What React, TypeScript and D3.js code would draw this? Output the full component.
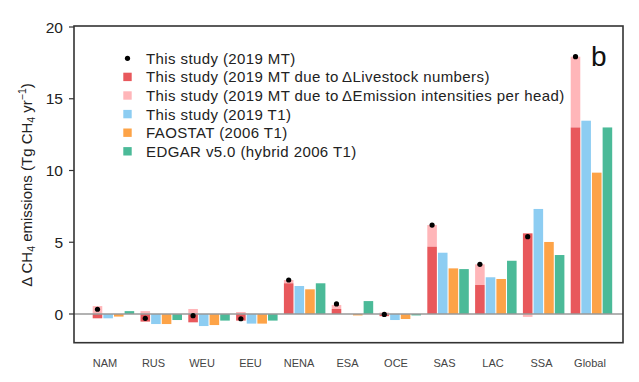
import React from "react";
import * as d3 from "d3";

const regions = ["NAM", "RUS", "WEU", "EEU", "NENA", "ESA", "OCE", "SAS", "LAC", "SSA", "Global"];
const mtTotal = [0.33, -0.3, -0.12, -0.33, 2.37, 0.7, -0.03, 6.2, 3.46, 5.39, 17.93];
const mtLivestock = [-0.3, -0.53, -0.58, -0.46, 2.14, 0.35, -0.15, 4.69, 2.02, 5.62, 13.0];
const mtIntensity = [0.55, 0.2, 0.35, 0.14, 0.23, 0.28, 0.1, 1.51, 1.44, -0.2, 4.93];
const t1Study = [-0.3, -0.7, -0.84, -0.67, 1.95, 0.0, -0.42, 4.27, 2.56, 7.32, 13.47];
const faostat = [-0.18, -0.7, -0.77, -0.67, 1.72, -0.1, -0.35, 3.18, 2.44, 5.02, 9.85];
const edgar = [0.2, -0.42, -0.46, -0.46, 2.14, 0.9, -0.1, 3.13, 3.71, 4.11, 13.0];
const yTicks = [0, 5, 10, 15, 20];
const legendLabels = [
  "This study (2019 MT)",
  "This study (2019 MT due to\u2009\u0394Livestock numbers)",
  "This study (2019 MT due to\u2009\u0394Emission intensities per head)",
  "This study (2019 T1)",
  "FAOSTAT (2006 T1)",
  "EDGAR v5.0 (hybrid 2006 T1)",
];

const RED = "#E8585C";
const PINK = "#FFB6B9";
const BLUE = "#8DCDF2";
const ORANGE = "#FDA347";
const GREEN = "#4BBA98";
const legendColors = ["#000", RED, PINK, BLUE, ORANGE, GREEN];

const FONT = "'Liberation Sans', Arial, Helvetica, sans-serif";

export default function App() {
  const W = 639, H = 382;
  const left = 74, right = 623, top = 26;
  const y = d3.scaleLinear().domain([-2, 20]).range([342.7, 27]);
  const xg = d3.scaleBand<string>().domain(regions).range([92.7, 612.2]).paddingInner(0.132).paddingOuter(0);
  const xs = d3.scaleBand<string>().domain(["mt", "t1", "fao", "edgar"]).range([0, xg.bandwidth()]).paddingInner(0.1);
  const xl = d3.scalePoint<string>().domain(regions).range([105, 590]);
  const bw = xs.bandwidth();
  const y0 = y(0);

  const rect = (x: number, a: number, b: number, fill: string, key: string) => (
    <rect key={key} x={x} y={Math.min(y(a), y(b))} width={bw} height={Math.abs(y(a) - y(b))} fill={fill} />
  );

  const bars: React.ReactNode[] = [];
  regions.forEach((r, i) => {
    const gx = xg(r)!;
    const red = mtLivestock[i];
    const pink = mtIntensity[i];
    const xr = gx + xs("mt")!;
    if (Math.sign(red) === Math.sign(pink)) {
      bars.push(rect(xr, red, red + pink, PINK, "p" + i));
    } else {
      bars.push(rect(xr, 0, pink, PINK, "p" + i));
    }
    bars.push(rect(xr, 0, red, RED, "r" + i));
    bars.push(rect(gx + xs("t1")!, 0, t1Study[i], BLUE, "b" + i));
    bars.push(rect(gx + xs("fao")!, 0, faostat[i], ORANGE, "o" + i));
    bars.push(rect(gx + xs("edgar")!, 0, edgar[i], GREEN, "g" + i));
  });

  const legY = d3.scaleLinear().domain([0, 5]).range([58.3, 151.3]);

  return (
    <svg width={W} height={H} style={{ position: "absolute", left: 0, top: 0 }} fontFamily={FONT}>
      <rect x={0} y={0} width={W} height={H} fill="#fff" />
      {bars}
      <line x1={left} x2={right} y1={y0} y2={y0} stroke="#999" strokeWidth={1.5} />
      {regions.map((r, i) => (
        <circle key={"d" + i} cx={xg(r)! + xs("mt")! + bw / 2} cy={y(mtTotal[i])} r={2.6} fill="#000" />
      ))}
      <rect x={left} y={top} width={right - left} height={y(-2) - top} fill="none" stroke="#333" strokeWidth={1.6} />
      {yTicks.map((t) => (
        <g key={"t" + t}>
          <line x1={left - 5} x2={left} y1={y(t)} y2={y(t)} stroke="#333" strokeWidth={1.2} />
          <text x={63} y={y(t)} dy="0.36em" textAnchor="end" fontSize={15.5} fill="#222">{t}</text>
        </g>
      ))}
      {regions.map((r) => (
        <text key={"l" + r} x={xl(r)} y={366.5} textAnchor="middle" fontSize={11} fill="#444">{r}</text>
      ))}
      <text transform="translate(31.5,185) rotate(-90)" textAnchor="middle" fontSize={15} fill="#222">
        <tspan>{"\u0394 CH"}</tspan>
        <tspan fontSize={10.5} dy={3}>4</tspan>
        <tspan dy={-3}>{" emissions (Tg CH"}</tspan>
        <tspan fontSize={10.5} dy={3}>4</tspan>
        <tspan dy={-3}>{" yr"}</tspan>
        <tspan fontSize={10.5} dy={-6}>{"\u22121"}</tspan>
        <tspan dy={6}>{")"}</tspan>
      </text>
      {legendLabels.map((lab, i) => (
        <g key={"lg" + i}>
          {i === 0 ? (
            <circle cx={127.5} cy={legY(i)} r={2.6} fill="#000" />
          ) : (
            <rect x={123.3} y={legY(i) - 4.2} width={8.4} height={8.4} fill={legendColors[i]} />
          )}
          <text x={146} y={legY(i)} dy="0.36em" fontSize={15} letterSpacing={0.4} fill="#222">{lab}</text>
        </g>
      ))}
      <text x={591} y={66} fontSize={28} fill="#111">b</text>
    </svg>
  );
}
